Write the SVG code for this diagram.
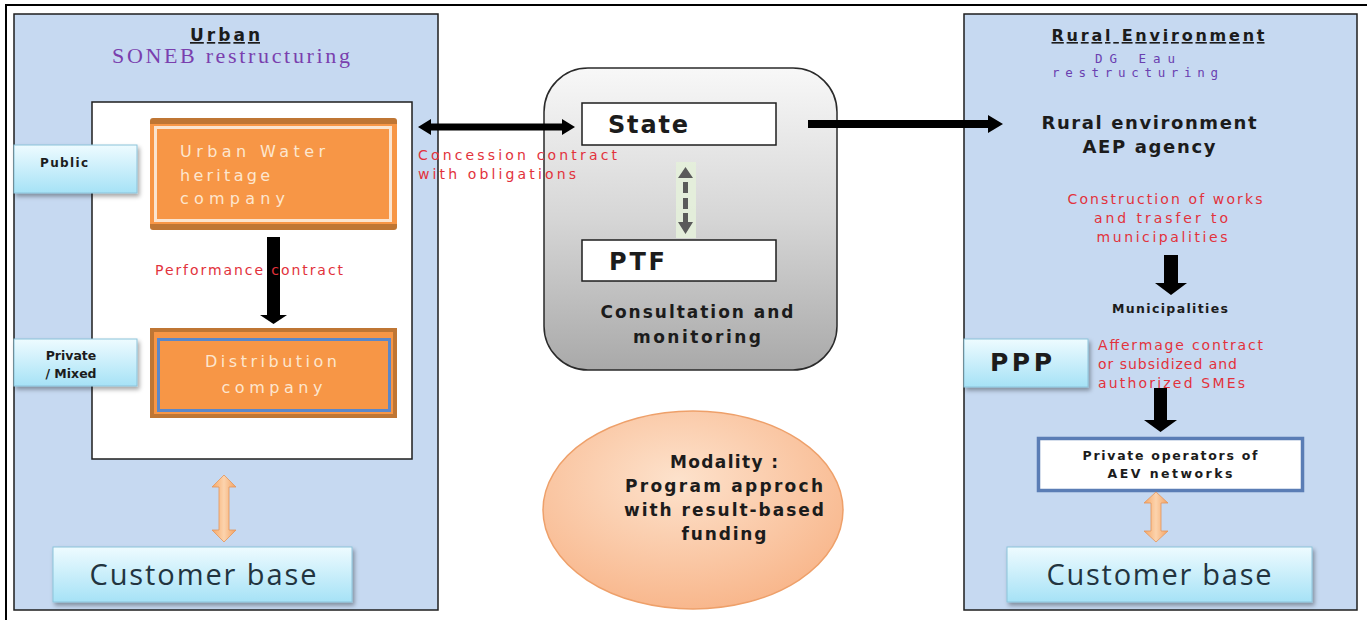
<svg xmlns="http://www.w3.org/2000/svg" width="1367" height="620" viewBox="0 0 1367 620">
<defs>
<linearGradient id="gCyan" x1="0" y1="0" x2="0" y2="1">
<stop offset="0" stop-color="#eefbff"/><stop offset="1" stop-color="#a6e2f6"/>
</linearGradient>
<linearGradient id="gGray" x1="0" y1="0" x2="0" y2="1">
<stop offset="0" stop-color="#f8f8f8"/><stop offset="0.5" stop-color="#d6d6d6"/><stop offset="1" stop-color="#a9a9a9"/>
</linearGradient>
<radialGradient id="gPeach" cx="0.45" cy="0.35" r="0.7">
<stop offset="0" stop-color="#fde2cc"/><stop offset="1" stop-color="#f8b488"/>
</radialGradient>
<linearGradient id="gOrangeArrow" x1="0" y1="0" x2="1" y2="0">
<stop offset="0" stop-color="#f6a765"/><stop offset="0.5" stop-color="#fcd3ad"/><stop offset="1" stop-color="#f3a261"/>
</linearGradient>
<filter id="shadow" x="-10%" y="-10%" width="130%" height="140%">
<feDropShadow dx="2" dy="3" stdDeviation="2" flood-color="#000" flood-opacity="0.35"/>
</filter>
<style>
.panel{fill:#c6d9f1;stroke:#1e1e1e;stroke-width:1.5}
.cyan{fill:url(#gCyan);stroke:#8cc3da;stroke-width:1;filter:url(#shadow)}
.whitebox{fill:#ffffff;stroke:#1e1e1e;stroke-width:1.5}
.red{font-family:"DejaVu Sans",Verdana,sans-serif;font-size:14px;fill:#e2323c}
.bold{font-family:"DejaVu Sans",Verdana,sans-serif;font-weight:bold;fill:#1c1c1c}
.cream{font-family:"DejaVu Sans",Verdana,sans-serif;font-size:16px;fill:#fde6cf}
.cust{font-family:"Open Sans","Noto Sans",sans-serif;font-size:29px;fill:#22343f}
.mono{font-family:"DejaVu Sans Mono",monospace;font-size:12.5px;fill:#6a3fb0}
.black{fill:#000000}
</style>
</defs>

<!-- page border -->
<line x1="5" y1="5" x2="1367" y2="5" stroke="#000" stroke-width="2"/>
<line x1="6" y1="5" x2="6" y2="620" stroke="#000" stroke-width="2"/>

<!-- Left panel -->
<g id="urban-panel">
<rect class="panel" x="14" y="14" width="424" height="596"/>
<text x="225" y="41" text-anchor="middle" class="bold" font-size="17" text-decoration="underline" textLength="70">Urban</text>
<text x="231" y="63" text-anchor="middle" font-family="Liberation Serif,serif" font-size="22" fill="#7a3fae" textLength="238">SONEB restructuring</text>
</g>
<g id="urban-inner">
<rect class="whitebox" x="92" y="102" width="320" height="357"/>
</g>
<g id="urban-water">
<rect x="150" y="118" width="247" height="112" rx="3" fill="#bf7634"/>
<rect x="150" y="124" width="247" height="100" fill="#f79646"/>
<rect x="155.5" y="127.5" width="235" height="93" fill="#f79646" stroke="#fbe4cf" stroke-width="3"/>
<text class="cream" x="180" y="157" textLength="145">Urban Water</text>
<text class="cream" x="180" y="181" textLength="90">heritage</text>
<text class="cream" x="180" y="204" textLength="105">company</text>
</g>
<g id="public">
<rect class="cyan" x="14" y="145" width="123" height="48"/>
<text class="bold" x="40" y="167" font-size="12" fill="#1c2a36" textLength="48">Public</text>
</g>
<g id="distribution">
<rect x="152" y="330" width="243" height="86" fill="#f79646" stroke="#bf7634" stroke-width="4"/>
<rect x="158.5" y="339.5" width="231" height="71" fill="#f79646" stroke="#5b87c8" stroke-width="3"/>
<text class="cream" x="271" y="367" text-anchor="middle" font-size="17" textLength="132">Distribution</text>
<text class="cream" x="272" y="393" text-anchor="middle" font-size="17" textLength="101">company</text>
</g>
<g id="private-mixed">
<rect class="cyan" x="14" y="339" width="123" height="47"/>
<text class="bold" x="71" y="360" font-size="12.5" text-anchor="middle" fill="#1c2a36">Private</text>
<text class="bold" x="71" y="378" font-size="12.5" text-anchor="middle" fill="#1c2a36">/ Mixed</text>
</g>
<g id="customer-left">
<rect class="cyan" x="53" y="547" width="299" height="55"/>
<text class="cust" x="203" y="585" text-anchor="middle" textLength="227">Customer base</text>
</g>

<!-- Center -->
<g id="consultation">
<rect x="544" y="68" width="293" height="302" rx="44" fill="url(#gGray)" stroke="#2a2a2a" stroke-width="1.5"/>
<text class="bold" x="697" y="318" text-anchor="middle" font-size="17" textLength="193">Consultation and</text>
<text class="bold" x="697" y="343" text-anchor="middle" font-size="17" textLength="128">monitoring</text>
</g>
<g id="state">
<rect class="whitebox" x="582" y="103" width="194" height="42"/>
<text class="bold" x="608" y="133" font-size="24" textLength="80">State</text>
</g>
<g id="ptf">
<rect class="whitebox" x="582" y="240" width="194" height="41"/>
<text class="bold" x="609" y="270" font-size="24" textLength="56">PTF</text>
</g>
<g id="modality">
<ellipse cx="693" cy="510" rx="150" ry="99" fill="url(#gPeach)" stroke="#eea06a" stroke-width="1.5"/>
<text class="bold" x="724" y="468" text-anchor="middle" font-size="17" textLength="108">Modality :</text>
<text class="bold" x="724" y="492" text-anchor="middle" font-size="17" textLength="198">Program approch</text>
<text class="bold" x="724" y="516" text-anchor="middle" font-size="17" textLength="200">with result-based</text>
<text class="bold" x="724" y="540" text-anchor="middle" font-size="17" textLength="85">funding</text>
</g>

<!-- Right panel -->
<g id="rural-panel">
<rect class="panel" x="964" y="14" width="393" height="596"/>
<text class="bold" x="1158" y="41" text-anchor="middle" font-size="16" text-decoration="underline" textLength="213">Rural Environment</text>
<text class="mono" x="1135" y="63" text-anchor="middle" textLength="80">DG Eau</text>
<text class="mono" x="1135" y="77" text-anchor="middle" textLength="166">restructuring</text>
</g>
<g id="aep-agency">
<text class="bold" x="1149" y="129" text-anchor="middle" font-size="18" textLength="215">Rural environment</text>
<text class="bold" x="1149" y="153" text-anchor="middle" font-size="18" textLength="133">AEP agency</text>
</g>
<g id="municipalities">
<text class="bold" x="1170" y="313" text-anchor="middle" font-size="12.5" textLength="116">Municipalities</text>
</g>
<g id="ppp">
<rect class="cyan" x="964" y="339" width="124" height="48"/>
<text class="bold" x="990" y="371" font-size="25" textLength="62" fill="#111">PPP</text>
</g>
<g id="private-operators">
<rect x="1038.5" y="438.5" width="264" height="52" fill="#ffffff" stroke="#5a7db5" stroke-width="3.5"/>
<text class="bold" x="1170" y="460" text-anchor="middle" font-size="12.5" fill="#2a3650" textLength="175">Private operators of</text>
<text class="bold" x="1170" y="478" text-anchor="middle" font-size="12.5" fill="#2a3650" textLength="125">AEV networks</text>
</g>
<g id="customer-right">
<rect class="cyan" x="1007" y="547" width="305" height="55"/>
<text class="cust" x="1159" y="585" text-anchor="middle" textLength="225">Customer base</text>
</g>

<!-- Connectors -->
<g id="connectors">
<path class="black" d="M267,237 H280 V315 H287 L273.5,324 L260,315 H267 Z"/>
<text class="red" x="155" y="275" textLength="188">Performance contract</text>
<path d="M224,475 L236,487 L229,487 L229,530 L236,530 L224,542 L212,530 L219,530 L219,487 L212,487 Z" fill="url(#gOrangeArrow)" stroke="#e3965c" stroke-width="0.8"/>
<path class="black" d="M418,127 L431,119 L431,123.5 L562,123.5 L562,119 L575,127 L562,135 L562,130.5 L431,130.5 L431,135 Z"/>
<text class="red" x="418" y="160" textLength="199">Concession contract</text>
<text class="red" x="418" y="179" textLength="158">with obligations</text>
<rect x="676" y="162" width="20" height="76" fill="#e4f0da" opacity="0.9"/>
<path d="M685.5,167 L693,178 L678,178 Z M683,182 H688 V193 H683 Z M683,198 H688 V209 H683 Z M683,213 H688 V222 H693 L685.5,234 L678,222 H683 Z" fill="#5a5a5a"/>
<path class="black" d="M808,120 H988 V115 L1003,124 L988,133 V128 H808 Z"/>
<text class="red" x="1165" y="204" text-anchor="middle" textLength="195">Construction of works</text>
<text class="red" x="1161" y="223" text-anchor="middle" textLength="134">and trasfer to</text>
<text class="red" x="1162" y="242" text-anchor="middle" textLength="131">municipalities</text>
<path class="black" d="M1164,255 H1178 V283 H1187 L1171,295 L1155,283 H1164 Z"/>
<text class="red" x="1098" y="350" textLength="165">Affermage contract</text>
<text class="red" x="1098" y="369" textLength="139">or subsidized and</text>
<text class="red" x="1098" y="388" textLength="147">authorized SMEs</text>
<path class="black" d="M1154,388 H1167 V420 H1177 L1160.5,432 L1144,420 H1154 Z"/>
<path d="M1156,492 L1168,503 L1161,503 L1161,531 L1168,531 L1156,542 L1144,531 L1151,531 L1151,503 L1144,503 Z" fill="url(#gOrangeArrow)" stroke="#e3965c" stroke-width="0.8"/>
</g>
</svg>
